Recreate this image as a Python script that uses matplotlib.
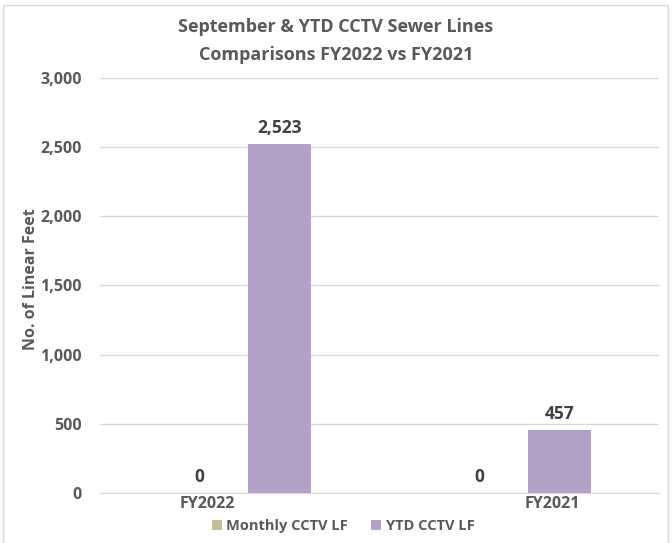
import matplotlib
matplotlib.use("Agg")
import matplotlib.pyplot as plt
from matplotlib.patches import Rectangle
import numpy as np

categories = ["FY2022", "FY2021"]
series_names = ["Monthly CCTV LF", "YTD CCTV LF"]
monthly = [0, 0]
ytd = [2523, 457]
yticks = [0, 500, 1000, 1500, 2000, 2500, 3000]

plt.rcParams['font.family'] = ['Open Sans', 'DejaVu Sans']
fig = plt.figure(figsize=(6.72, 5.43), dpi=100)
ax = fig.add_axes([100/672, 1-493.3/543, (659-100)/672, (493.3-77.5)/543])

c_month = "#C4BD97"
c_ytd = "#B3A2C7"
txt = "#595959"
x = np.arange(len(categories))
w = 0.225
off = 0.143
b1 = ax.bar(x - off, monthly, w, color=c_month, label=series_names[0], zorder=3)
b2 = ax.bar(x + off, ytd, w, color=c_ytd, label=series_names[1], zorder=3)

for bars in (b1, b2):
    for r in bars:
        h = r.get_height()
        ax.annotate(f"{h:,.0f}", (r.get_x() + r.get_width()/2, h),
                    xytext=(0, 5), textcoords="offset points",
                    ha="center", va="bottom", fontsize=12.5, fontweight="bold",
                    color="#404040")

ax.set_xlim(-0.5, 1.5)
ax.set_ylim(0, 3000)
ax.set_yticks(yticks)
ax.set_yticklabels([f"{v:,}" for v in yticks], fontsize=11.5, fontweight="bold", color=txt)
# category labels sit slightly off the group centres in the reference
label_shift = np.array([-0.116, 0.12])
ax.set_xticks(x + label_shift)
ax.set_xticklabels(categories, fontsize=11.5, fontweight="bold", color=txt)
ax.tick_params(axis='both', length=0)
ax.tick_params(axis='y', pad=13)
ax.tick_params(axis='x', pad=2)
ax.grid(axis='y', color="#D9D9D9", linewidth=1, zorder=0)
for sp in ["top", "right", "left"]:
    ax.spines[sp].set_visible(False)
ax.spines["bottom"].set_color("#D9D9D9")

fig.text(31/672, 1-279/543, "No. of Linear Feet", rotation=90, ha="center", va="center",
         fontsize=11.5, fontweight="bold", color=txt)
fig.text(336/672, 1-27/543, "September & YTD CCTV Sewer Lines", ha="center", va="center",
         fontsize=13, fontweight="bold", color=txt)
fig.text(336/672, 1-55/543, "Comparisons FY2022 vs FY2021", ha="center", va="center",
         fontsize=13, fontweight="bold", color=txt)

leg = fig.legend(loc="center", bbox_to_anchor=(343/672, 1-526/543), ncol=2, frameon=False,
                 handlelength=0.7, handleheight=0.7, columnspacing=1.6, handletextpad=0.3,
                 prop={'size': 10.5, 'weight': 'bold'})
for t in leg.get_texts():
    t.set_color(txt)

fig.patches.append(Rectangle((3/672, -0.01), 665/672, 1 - 5/543 + 0.01, transform=fig.transFigure,
                             fill=False, edgecolor="#D9D9D9", linewidth=1))

fig.savefig("out.png", dpi=100)
